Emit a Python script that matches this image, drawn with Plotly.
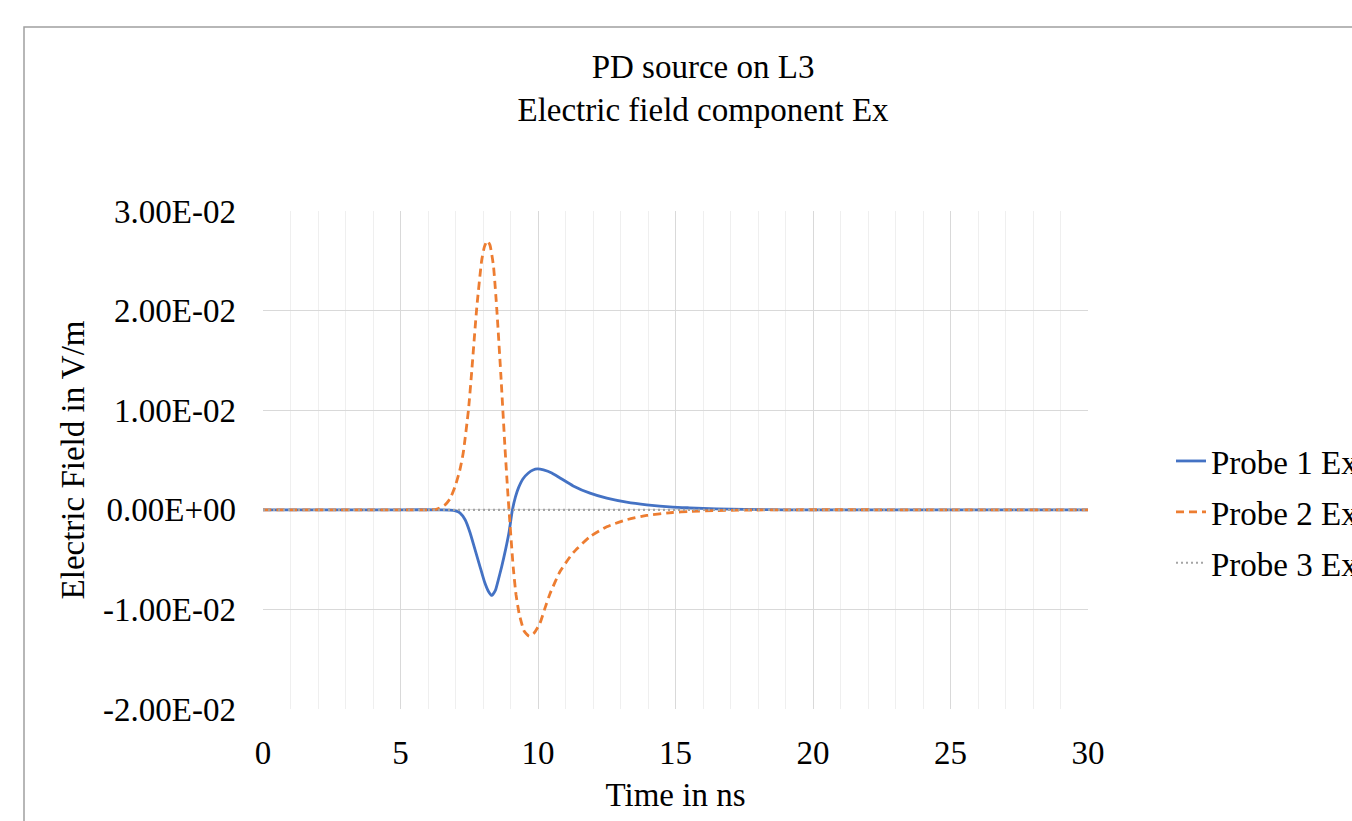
import plotly.graph_objects as go

# ---- data ----
time_probe1 = [0, 5, 6.5, 6.8, 7.0, 7.16, 7.35, 7.53, 7.7, 7.89, 8.05, 8.2, 8.32,
               8.45, 8.55, 8.68, 8.82, 8.95, 9.07, 9.18, 9.29, 9.45, 9.65, 9.82,
               9.98, 10.2, 10.5, 10.8, 11.28, 11.89, 12.5, 13.22, 13.95, 14.9,
               15.5, 16.5, 17.5, 19, 25, 30]
probe1_ex = [0, 0, 0, -0.00003, -0.0001, -0.0003, -0.0010, -0.0023, -0.0039,
             -0.0057, -0.0072, -0.0082, -0.0086, -0.0081, -0.0071, -0.0057,
             -0.0040, -0.0022, 0.0, 0.0013, 0.0022, 0.0031, 0.0037, 0.0040,
             0.0041, 0.0040, 0.0037, 0.0032, 0.0024, 0.00167, 0.00117, 0.00077,
             0.0005, 0.00027, 0.0002, 0.0001, 0.00004, 0, 0, 0]

time_probe2 = [0, 5, 6.3, 6.62, 6.8, 6.98, 7.15, 7.28, 7.47, 7.59, 7.77, 7.95,
               8.05, 8.15, 8.25, 8.38, 8.5, 8.65, 8.8, 8.9, 8.97, 9.1, 9.2, 9.32,
               9.5, 9.68, 9.85, 10.07, 10.25, 10.44, 10.8, 11.28, 11.89, 12.5,
               13.22, 13.95, 14.9, 15.5, 16.5, 17.5, 19, 25, 30]
probe2_ex = [0, 0, 0.00005, 0.0005, 0.0011, 0.0023, 0.0039, 0.0057, 0.0100,
             0.0139, 0.0202, 0.0250, 0.0264, 0.0270, 0.0266, 0.0245, 0.0202,
             0.0135, 0.0062, 0.0018, -0.0010, -0.0058, -0.0085, -0.0105,
             -0.0122, -0.0127, -0.0124, -0.0114, -0.0099, -0.0084, -0.0062,
             -0.0043, -0.0027, -0.0017, -0.0010, -0.00057, -0.00027, -0.00017,
             -0.00008, -0.00003, 0, 0, 0]

time_probe3 = [0, 5, 10, 15, 20, 25, 30]
probe3_ex = [0, 0, 0, 0, 0, 0, 0]

series_names = ["Probe 1 Ex", "Probe 2 Ex", "Probe 3 Ex"]

y_tick_vals = [-0.02, -0.01, 0.0, 0.01, 0.02, 0.03]
y_tick_text = ["-2.00E-02", "-1.00E-02", "0.00E+00", "1.00E-02", "2.00E-02", "3.00E-02"]
x_tick_vals = [0, 5, 10, 15, 20, 25, 30]

FONT = "Liberation Serif, Times New Roman, serif"
FS = 33

fig = go.Figure()
fig.add_trace(go.Scatter(x=time_probe1, y=probe1_ex, mode="lines", name=series_names[0],
                         legendgroup="a",
                         line=dict(color="#4472C4", width=2.8, shape="spline", smoothing=0.5)))
fig.add_trace(go.Scatter(x=time_probe2, y=probe2_ex, mode="lines", name=series_names[1],
                         legendgroup="b",
                         line=dict(color="#ED7D31", width=2.8, dash="8px,5px",
                                   shape="spline", smoothing=0.5)))
fig.add_trace(go.Scatter(x=time_probe3, y=probe3_ex, mode="lines", name=series_names[2],
                         legendgroup="c",
                         line=dict(color="#A5A5A5", width=2.2, dash="2px,3px")))

fig.update_layout(
    width=1352, height=821,
    margin=dict(l=263, r=264, t=211, b=112, autoexpand=False),
    paper_bgcolor="white", plot_bgcolor="white",
    font=dict(family=FONT, size=FS, color="#000000"),
    title=dict(text="PD source on L3<br>Electric field component Ex",
               x=0.52, xanchor="center", xref="container",
               y=1 - 78 / 821, yanchor="top",
               font=dict(family=FONT, size=FS, color="#000000")),
    legend=dict(x=(1171 - 263) / 825, xanchor="left", y=(709 - 512) / 498, yanchor="middle",
                font=dict(family=FONT, size=FS, color="#000000"),
                tracegroupgap=5, bgcolor="rgba(0,0,0,0)", itemwidth=30),
    showlegend=True,
)

fig.update_xaxes(
    range=[0, 30], tickvals=x_tick_vals, showgrid=True, gridcolor="#D9D9D9", gridwidth=1.3,
    zeroline=False, showline=False, ticks="", ticklabelstandoff=21,
    tickfont=dict(family=FONT, size=FS),
    minor=dict(dtick=1, showgrid=True, gridcolor="#EFEFEF", gridwidth=1),
    title=dict(text="Time in ns", standoff=12, font=dict(family=FONT, size=FS)),
)
fig.update_yaxes(
    range=[-0.02, 0.03], tickvals=y_tick_vals, ticktext=y_tick_text, showgrid=True,
    gridcolor="#D9D9D9", gridwidth=1.3, zeroline=False, showline=False, ticks="",
    ticklabelstandoff=26, tickfont=dict(family=FONT, size=FS),
    title=dict(text="Electric Field in V/m", standoff=8, font=dict(family=FONT, size=FS)),
)

# outer chart-area border (cropped on the right and bottom like the reference)
fig.add_shape(type="rect", xref="paper", yref="paper",
              x0=(24 - 263) / 825, x1=(1400 - 263) / 825,
              y0=(709 - 900) / 498, y1=(709 - 27) / 498,
              line=dict(color="#A0A0A0", width=1.5), fillcolor="rgba(0,0,0,0)", layer="below")

fig.write_html("out.html")
